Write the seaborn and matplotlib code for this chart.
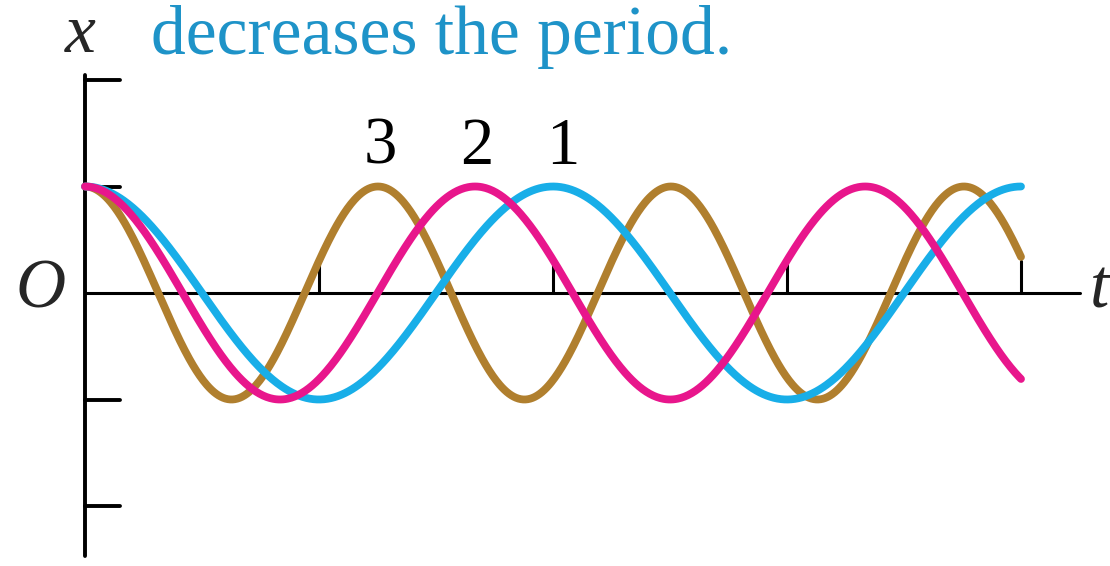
import numpy as np
import pandas as pd
import matplotlib
matplotlib.use('Agg')
import matplotlib.pyplot as plt
import seaborn as sns

# curves 1, 2, 3 : x = A cos(2 pi t / T)
labels = ['1', '2', '3']
periods = [2.0, 1.667, 1.252]          # (tick spacing = 1)
amplitude = 1.0
colors = ['#18AEE8', '#E8168C', '#B07F2E']
label_pos_t = [2.04, 1.675, 1.26]      # where the numbers sit
t_end = 4.0
x_ticks = [1, 2, 3, 4]
y_ticks = [-2, -1, 1, 2]

sns.set_theme(style='white')
plt.rcParams['font.family'] = ['Liberation Serif', 'DejaVu Serif']

fig = plt.figure(figsize=(11.1, 5.66), dpi=100)
ax = fig.add_axes([0, 0, 1, 1])
ax.set_xlim(-85 / 234, (1110 - 85) / 234)
ax.set_ylim(-(566 - 293) / 106.5, 293 / 106.5)
ax.axis('off')

t = np.linspace(0, t_end, 800)
rows = []
for lab, T in zip(labels, periods):
    rows.append(pd.DataFrame({'t': t, 'x': amplitude * np.cos(2 * np.pi * t / T), 'curve': lab}))
df = pd.concat(rows)

# axes lines
ax.plot([0, (1080 - 85) / 234], [0, 0], color='black', lw=2.2, zorder=1)
ax.plot([0, 0], [(293 - 556) / 106.5, (293 - 75) / 106.5], color='black', lw=2.8, zorder=1)
for xt in x_ticks:
    ax.plot([xt, xt], [0, 0.3], color='black', lw=2.2, zorder=1)
for yt in y_ticks:
    ax.plot([0, 0.15], [yt, yt], color='black', lw=2.8, zorder=1)

# draw order: brown under, then blue, magenta on top
for lab in ['3', '1', '2']:
    i = labels.index(lab)
    sns.lineplot(data=df[df.curve == lab], x='t', y='x', color=colors[i],
                 lw=5.6, ax=ax, legend=False, zorder=3)

for lab, tp in zip(labels, label_pos_t):
    ax.text(tp, 1.37, lab, fontsize=48, ha='center', va='center', color='black')

ax.text(-0.02, 2.42, 'x', fontsize=50, style='italic', ha='center', va='center')
ax.text(-0.19, 0.02, 'O', fontsize=50, style='italic', ha='center', va='center')
ax.text(4.375, 0.02, 't', fontsize=50, style='italic', ha='right', va='center')
ax.text(0.28, 2.40, 'decreases the period.', fontsize=50, color='#1E93C8',
        ha='left', va='center')

fig.savefig('out.png', dpi=100)
